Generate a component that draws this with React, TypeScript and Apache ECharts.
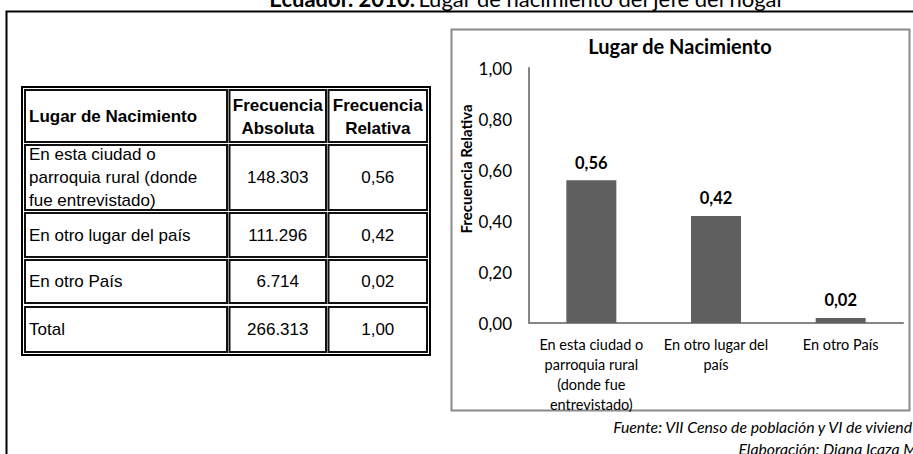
import React, { useEffect, useRef } from "react";
import * as echarts from "echarts";

// ---- data ----
const chartCategoryLabels = [
  "En esta ciudad o\nparroquia rural\n(donde fue\nentrevistado)",
  "En otro lugar del\npaís",
  "En otro País",
];
const tableRowLabels = [
  "En esta ciudad o\nparroquia rural (donde\nfue entrevistado)",
  "En otro lugar del país",
  "En otro País",
  "Total",
];
const frecuenciaAbsoluta = [148303, 111296, 6714];
const frecuenciaRelativa = [0.56, 0.42, 0.02];
const totalAbsoluta = 266313;
const totalRelativa = 1.0;
const tableHeaders = ["Lugar de Nacimiento", "Frecuencia\nAbsoluta", "Frecuencia\nRelativa"];
const chartTitle = "Lugar de Nacimiento";
const yAxisTitle = "Frecuencia Relativa";
const docTitleBold = "Ecuador. 2010.";
const docTitleRest = "Lugar de nacimiento del jefe del hogar";
const fuente = "Fuente: VII Censo de población y VI de viviend";
const elaboracion = "Elaboración: Diana Icaza M";
const yMin = 0;
const yMax = 1;
const yInterval = 0.2;

function fmtDec(v: number): string {
  return v.toFixed(2).replace(".", ",");
}
function fmtThousands(v: number): string {
  return String(v).replace(/\B(?=(\d{3})+(?!\d))/g, ".");
}

const CHART_FONT = "Lato";
const TABLE_FONT = "Liberation Sans";

function txt(
  text: string,
  x: number,
  y: number,
  font: string,
  align: string,
  extra: any = {}
) {
  return {
    type: "text",
    silent: true,
    style: {
      text,
      x,
      y,
      font,
      fill: "#000",
      align,
      textAlign: align,
      verticalAlign: "middle",
      textVerticalAlign: "middle",
      ...extra,
    },
  };
}

export default function App() {
  const ref = useRef<HTMLDivElement>(null);

  useEffect(() => {
    if (!ref.current) return;
    const chart = echarts.init(ref.current, null, { renderer: "svg" });

    const cols = [
      [25, 227],
      [229.5, 326],
      [328.5, 427],
    ];
    const rows = [
      [90, 142],
      [145, 210],
      [213, 257],
      [260, 303],
      [307, 352],
    ];

    const graphics: any[] = [];

    // outer document frame
    graphics.push({
      type: "rect",
      silent: true,
      shape: { x: 6.5, y: 11.5, width: 1000, height: 1000 },
      style: { fill: "none", stroke: "#000", lineWidth: 2 },
    });

    // document title (clipped at top, as in the original)
    graphics.push({
      type: "text",
      silent: true,
      style: {
        text: `{b|${docTitleBold}} {n|${docTitleRest}}`,
        x: 527,
        y: -2,
        align: "center",
        textAlign: "center",
        verticalAlign: "middle",
        textVerticalAlign: "middle",
        rich: {
          b: { font: `bold 22px ${CHART_FONT}`, fill: "#000" },
          n: { font: `22px ${CHART_FONT}`, fill: "#000" },
        },
      },
    });

    // table outer border
    graphics.push({
      type: "rect",
      silent: true,
      shape: { x: 22, y: 87, width: 408, height: 268 },
      style: { fill: "none", stroke: "#000", lineWidth: 2 },
    });
    // cells
    rows.forEach((r) => {
      cols.forEach((c) => {
        graphics.push({
          type: "rect",
          silent: true,
          shape: { x: c[0], y: r[0], width: c[1] - c[0], height: r[1] - r[0] },
          style: { fill: "none", stroke: "#111", lineWidth: 2 },
        });
      });
    });

    const colCenter = (i: number) => (cols[i][0] + cols[i][1]) / 2;
    const rowCenter = (i: number) => (rows[i][0] + rows[i][1]) / 2;

    // header texts
    graphics.push(txt(tableHeaders[0], 29, rowCenter(0), `bold 17px "${TABLE_FONT}"`, "left"));
    graphics.push(
      txt(tableHeaders[1], colCenter(1), rowCenter(0) + 1, `bold 17px "${TABLE_FONT}"`, "center", { lineHeight: 23 })
    );
    graphics.push(
      txt(tableHeaders[2], colCenter(2), rowCenter(0) + 1, `bold 17px "${TABLE_FONT}"`, "center", { lineHeight: 23 })
    );

    const absVals = [...frecuenciaAbsoluta, totalAbsoluta];
    const relVals = [...frecuenciaRelativa, totalRelativa];
    tableRowLabels.forEach((lab, i) => {
      const cy = rowCenter(i + 1);
      graphics.push(txt(lab, 29, cy, `17px "${TABLE_FONT}"`, "left", { lineHeight: 23 }));
      graphics.push(txt(fmtThousands(absVals[i]), colCenter(1), cy, `17px "${TABLE_FONT}"`, "center"));
      graphics.push(txt(fmtDec(relVals[i]), colCenter(2), cy, `17px "${TABLE_FONT}"`, "center"));
    });

    // chart box border
    graphics.push({
      type: "rect",
      silent: true,
      shape: { x: 451.5, y: 29.5, width: 458, height: 381 },
      style: { fill: "none", stroke: "#8a8a8a", lineWidth: 2 },
    });

    // chart title
    graphics.push(txt(chartTitle, 680, 46, `bold 20px ${CHART_FONT}`, "center"));

    // y axis title (rotated)
    graphics.push({
      type: "text",
      silent: true,
      x: 466,
      y: 169,
      rotation: Math.PI / 2,
      style: {
        text: yAxisTitle,
        x: 0,
        y: 0,
        font: `bold 15px ${CHART_FONT}`,
        fill: "#000",
        align: "center",
        textAlign: "center",
        verticalAlign: "middle",
        textVerticalAlign: "middle",
      },
    });

    // footers
    graphics.push(txt(fuente, 912, 426, `italic 15.8px ${CHART_FONT}`, "right"));
    graphics.push(txt(elaboracion, 917, 448, `italic 15.8px ${CHART_FONT}`, "right"));

    chart.setOption({
      animation: false,
      backgroundColor: "#fff",
      grid: { left: 529, right: 10, top: 68, bottom: 131, containLabel: false },
      xAxis: {
        type: "category",
        data: chartCategoryLabels,
        axisLine: { show: true, lineStyle: { color: "#868686", width: 2 } },
        axisTick: { show: false },
        axisLabel: {
          interval: 0,
          margin: 11,
          color: "#000",
          fontFamily: CHART_FONT,
          fontSize: 14.5,
          lineHeight: 20,
          verticalAlign: "top",
        },
        splitLine: { show: false },
      },
      yAxis: {
        type: "value",
        min: yMin,
        max: yMax,
        interval: yInterval,
        axisLine: { show: true, lineStyle: { color: "#868686", width: 2 } },
        axisTick: { show: false },
        splitLine: { show: false },
        axisLabel: {
          margin: 17,
          color: "#000",
          fontFamily: CHART_FONT,
          fontSize: 17,
          formatter: (v: number) => fmtDec(v),
        },
      },
      series: [
        {
          type: "bar",
          data: frecuenciaRelativa,
          barWidth: 50,
          itemStyle: { color: "#5f5f5f" },
          label: {
            show: true,
            position: "top",
            distance: 9,
            color: "#000",
            fontFamily: CHART_FONT,
            fontWeight: "bold",
            fontSize: 16.5,
            formatter: (p: any) => fmtDec(p.value),
          },
        },
      ],
      graphic: { elements: graphics },
    });

    return () => {
      chart.dispose();
    };
  }, []);

  return (
    <div
      ref={ref}
      style={{ position: "absolute", left: 0, top: 0, width: 913, height: 454, background: "#fff" }}
    />
  );
}
